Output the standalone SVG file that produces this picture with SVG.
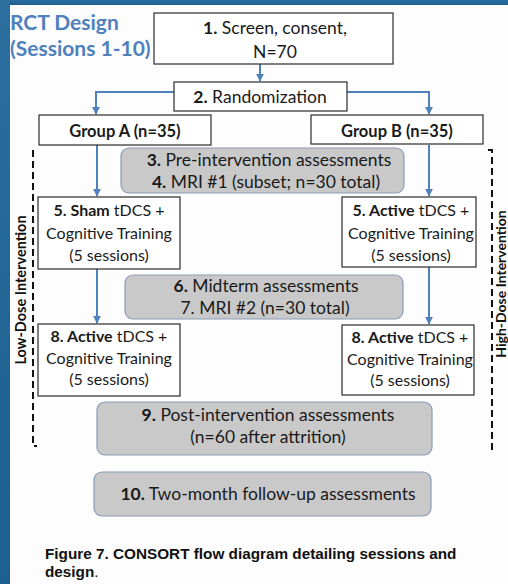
<svg xmlns="http://www.w3.org/2000/svg" width="508" height="584" viewBox="0 0 508 584">
<defs>
<marker id="ah" viewBox="0 0 10 10" refX="9" refY="5" markerWidth="4" markerHeight="4" orient="auto" markerUnits="strokeWidth">
<path d="M0,0 L10,5 L0,10 z" fill="#4f81bd"/>
</marker>
<linearGradient id="band" x1="0" y1="0" x2="0" y2="1">
<stop offset="0" stop-color="#2a6f9e"/>
<stop offset="1" stop-color="#1d5f8e"/>
</linearGradient>
</defs>
<style>
.t{font-family:Lato,"Open Sans","Liberation Sans",sans-serif;font-size:17.5px;fill:#1a1a1a;text-anchor:middle}
.s{font-size:16px}
.g{font-size:16.5px}
.b{font-weight:bold}
.box{fill:#ffffff;stroke:#2b2b2b;stroke-width:1.2}
.gbox{fill:#c9c9c9;stroke:#8b9cb8;stroke-width:1.2}
.c{fill:none;stroke:#4f81bd;stroke-width:2}
.dash{fill:none;stroke:#111;stroke-width:2;stroke-dasharray:7,4}
.side{font-family:Lato,"Open Sans","Liberation Sans",sans-serif;font-size:14.5px;font-weight:bold;fill:#111;text-anchor:middle}
.title{font-family:Lato,"Open Sans","Liberation Sans",sans-serif;font-size:21px;font-weight:bold;fill:#4f81bd}
.cap{font-family:"Liberation Sans",Arial,sans-serif;font-size:15.3px;font-weight:bold;fill:#111}
</style>
<rect x="0" y="0" width="508" height="584" fill="#fdfdfd"/>
<rect x="0" y="0" width="508" height="5" fill="url(#band)"/>
<rect x="0" y="0" width="10" height="584" fill="url(#band)"/>

<g id="title">
<text class="title" x="10" y="30">RCT Design</text>
<text class="title" x="10" y="56">(Sessions 1-10)</text>
</g>

<g id="connectors">
<line class="c" x1="260" y1="64" x2="260" y2="81" marker-end="url(#ah)"/>
<polyline class="c" points="174,92 96,92 96,114" marker-end="url(#ah)"/>
<polyline class="c" points="347,92 429,92 429,114" marker-end="url(#ah)"/>
<line class="c" x1="97" y1="145" x2="97" y2="196" marker-end="url(#ah)"/>
<line class="c" x1="429" y1="145" x2="429" y2="196" marker-end="url(#ah)"/>
<line class="c" x1="97" y1="269" x2="97" y2="323" marker-end="url(#ah)"/>
<line class="c" x1="429" y1="267" x2="429" y2="324" marker-end="url(#ah)"/>
</g>

<g id="brackets">
<path class="dash" d="M33,150 L33,446 L37,446"/>
<path class="dash" d="M488,150 L492,150 L492,450 L488,450"/>
<text class="side" transform="translate(26,290) rotate(-90)">Low-Dose Intervention</text>
<text class="side" transform="translate(505.5,284) rotate(-90)" style="font-size:14px">High-Dose Intervention</text>
</g>

<g id="n1">
<rect class="box" x="154" y="13" width="239" height="51"/>
<text class="t" x="275" y="34"><tspan class="b">1.</tspan> Screen, consent,</text>
<text class="t" x="275" y="58">N=70</text>
</g>

<g id="n2">
<rect class="box" x="174" y="82" width="173" height="29"/>
<text class="t" x="260" y="103"><tspan class="b">2.</tspan> Randomization</text>
</g>

<g id="groupA">
<rect class="box" x="39" y="115" width="172" height="30"/>
<text class="t g b" x="125" y="137">Group A (n=35)</text>
</g>

<g id="groupB">
<rect class="box" x="311" y="115" width="172" height="29"/>
<text class="t g b" x="397" y="137">Group B (n=35)</text>
</g>

<g id="n3">
<rect class="gbox" x="121" y="148" width="283" height="45" rx="8"/>
<text class="t" x="269" y="166"><tspan class="b">3.</tspan> Pre-intervention assessments</text>
<text class="t" x="266" y="188"><tspan class="b">4.</tspan> MRI #1 (subset; n=30 total)</text>
</g>

<g id="n5a">
<rect class="box" x="38" y="197" width="142" height="72"/>
<text class="t s" x="109" y="216"><tspan class="b">5. Sham</tspan> tDCS +</text>
<text class="t s" x="109" y="239">Cognitive Training</text>
<text class="t s" x="109" y="261">(5 sessions)</text>
</g>

<g id="n5b">
<rect class="box" x="342" y="197" width="134" height="70"/>
<text class="t s" x="411" y="216"><tspan class="b">5. Active</tspan> tDCS +</text>
<text class="t s" x="411" y="239">Cognitive Training</text>
<text class="t s" x="411" y="261">(5 sessions)</text>
</g>

<g id="n6">
<rect class="gbox" x="125" y="275" width="278" height="44" rx="8"/>
<text class="t" x="266" y="292"><tspan class="b">6.</tspan> Midterm assessments</text>
<text class="t" x="265" y="314">7. MRI #2 (n=30 total)</text>
</g>

<g id="n8a">
<rect class="box" x="38" y="324" width="142" height="72"/>
<text class="t s" x="109" y="342"><tspan class="b">8. Active</tspan> tDCS +</text>
<text class="t s" x="109" y="364">Cognitive Training</text>
<text class="t s" x="109" y="385">(5 sessions)</text>
</g>

<g id="n8b">
<rect class="box" x="342" y="325" width="132" height="70"/>
<text class="t s" x="410" y="343"><tspan class="b">8. Active</tspan> tDCS +</text>
<text class="t s" x="410" y="365">Cognitive Training</text>
<text class="t s" x="410" y="386">(5 sessions)</text>
</g>

<g id="n9">
<rect class="gbox" x="97" y="402" width="335" height="53" rx="8"/>
<text class="t" x="268" y="421"><tspan class="b">9.</tspan> Post-intervention assessments</text>
<text class="t" x="268" y="443">(n=60 after attrition)</text>
</g>

<g id="n10">
<rect class="gbox" x="94" y="472" width="337" height="44" rx="8"/>
<text class="t" x="268" y="500"><tspan class="b">10.</tspan> Two-month follow-up assessments</text>
</g>

<g id="caption">
<text class="cap" x="45" y="559">Figure 7. CONSORT flow diagram detailing sessions and</text>
<text class="cap" x="45" y="577">design<tspan style="font-weight:normal">.</tspan></text>
</g>
</svg>
